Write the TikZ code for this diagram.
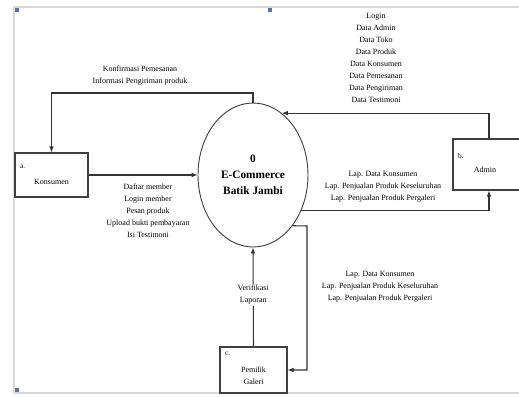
\documentclass[tikz,border=0pt]{standalone}
\usepackage{fontspec}
\setmainfont{Liberation Serif}
\usepackage{tikz}
\usetikzlibrary{shapes.geometric, arrows.meta, positioning}
\definecolor{framegray}{rgb}{0.85, 0.85, 0.87}
\definecolor{handleblue}{rgb}{0.35, 0.45, 0.65}

\begin{document}
\begin{tikzpicture}[
  x=0.75pt, y=-0.75pt,
  entity/.style={rectangle, draw=black!75, line width=0.8pt, fill=white, inner sep=0pt},
  proc/.style={ellipse, draw=black!75, line width=0.7pt, minimum width=82.5pt, minimum height=108pt, align=center, font=\fontsize{8.5}{12}\selectfont\bfseries},
  flow/.style={-{Latex[length=4.5pt, width=3.5pt]}, draw=black!80, line width=0.8pt},
  lbl/.style={align=center, font=\fontsize{6}{9}\selectfont, inner sep=1pt},
  tag/.style={font=\fontsize{5.5}{7}\selectfont, inner sep=0pt, anchor=north west},
  handle/.style={fill=handleblue, minimum size=2.5pt, inner sep=0pt}
]
\useasboundingbox (0,0) rectangle (519,397);
\clip (0,0) rectangle (519,397);

% Frame
\draw[framegray, line width=1pt] (519,7) -- (14,7) -- (14,393) -- (519,393);
\node[handle] (h1) at (17,10) {};
\node[handle] (h2) at (270,10) {};
\node[handle] (h3) at (17,390) {};

% Process
\node[proc] (proses) at (253,175) {0\\E-Commerce\\Batik Jambi};

% Entities
\node[entity, minimum width=54.75pt, minimum height=33pt,
  label={[lbl, yshift=-5pt]center:Konsumen}] (konsumen) at (51.5,175) {};
\node[tag] (tagA) at ([xshift=4pt, yshift=-9pt]konsumen.north west) {a.};

\node[entity, minimum width=54pt, minimum height=38.25pt,
  label={[lbl, yshift=-4pt, xshift=-3pt]center:Admin}] (admin) at (489,164.5) {};
\node[tag] (tagB) at ([xshift=4pt, yshift=-11pt]admin.north west) {b.};

\node[entity, minimum width=50.25pt, minimum height=34.5pt,
  label={[lbl, yshift=-4.5pt]center:Pemilik\\Galeri}] (pemilik) at (253.5,370) {};
\node[tag] (tagC) at ([xshift=4pt, yshift=-4pt]pemilik.north west) {c.};

\coordinate (galeriturn) at (307,226);

% Flows
\draw[flow] (proses.north) -- (proses.north |- 0,93) -| (konsumen.north);
\draw[flow] (konsumen.east) -- (proses.west);
\draw[flow] (admin.north) |- (proses.65.7);
\draw[flow] (proses.-36) -| (admin.south);
\draw[flow] (proses.-52.7) -- (galeriturn) |- (pemilik.east);
\draw[flow] (pemilik.north) -- node[lbl, fill=white, pos=0.52] (verif) {Verifikasi\\Laporan} (proses.south);

% Flow labels
\node[lbl] (konfirmasi) at (140,76) {Konfirmasi Pemesanan\\Informasi Pengiriman produk};
\node[lbl] (dataadmin) at (376,58) {Login\\Data Admin\\Data Toko\\Data Produk\\Data Konsumen\\Data Pemesanan\\Data Pengiriman\\Data Testimoni};
\node[lbl] (datakonsumen) at (148,210.5) {Daftar member\\Login member\\Pesan produk\\Upload bukti pembayaran\\Isi Testimoni};
\node[lbl] (lapadmin) at (383,187) {Lap. Data Konsumen\\Lap. Penjualan Produk Keseluruhan\\Lap. Penjualan Produk Pergaleri};
\node[lbl] (lappemilik) at (380,287) {Lap. Data Konsumen\\Lap. Penjualan Produk Keseluruhan\\Lap. Penjualan Produk Pergaleri};

\end{tikzpicture}
\end{document}
